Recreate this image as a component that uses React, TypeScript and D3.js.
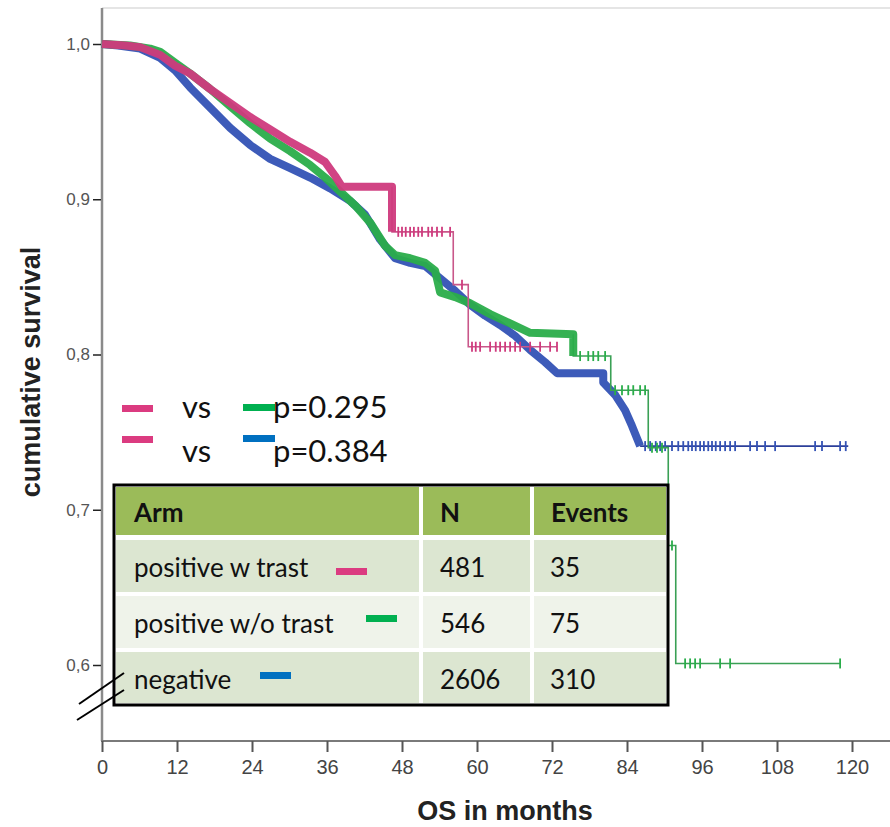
import React, { useEffect, useRef } from 'react';
import * as d3 from 'd3';

// axis ticks
const monthTicks = [0, 12, 24, 36, 48, 60, 72, 84, 96, 108, 120];
const survivalTicks = [0.6, 0.7, 0.8, 0.9, 1.0];

// Kaplan-Meier curves: [month, cumulative survival]
const pinkCurve: [number, number][] = [
  [0, 1.0], [3.7, 0.999], [6.1, 0.998], [9.3, 0.993], [11.7, 0.986], [14.1, 0.981],
  [17.3, 0.971], [20.5, 0.962], [23.7, 0.953], [26.9, 0.945], [30.1, 0.937], [33.3, 0.93],
  [35.7, 0.924], [37.3, 0.915], [38.4, 0.908], [46.4, 0.908], [46.4, 0.879], [56.2, 0.879],
  [56.2, 0.845], [58.6, 0.845], [58.6, 0.805], [72.8, 0.805],
];
const pinkCensor = [
  47.4, 48.0, 48.6, 49.3, 49.9, 50.6, 51.2, 52.2, 52.8, 53.6, 54.4, 55.7, 57.6,
  59.2, 59.8, 60.5, 62.1, 63.0, 63.7, 64.5, 65.3, 66.1, 66.9, 68.5, 70.1, 71.7, 72.8,
];

const greenCurve: [number, number][] = [
  [0, 1.0], [4.5, 0.999], [7.7, 0.997], [9.3, 0.995], [11.7, 0.988], [14.1, 0.981],
  [17.3, 0.971], [20.5, 0.96], [23.7, 0.949], [26.9, 0.939], [30.1, 0.931], [33.3, 0.922],
  [35.7, 0.914], [38.1, 0.905], [40.5, 0.896], [42.9, 0.885], [45.3, 0.87], [46.9, 0.864],
  [49.3, 0.862], [51.7, 0.859], [53.3, 0.854], [54.1, 0.84], [56.5, 0.837], [58.9, 0.833],
  [62.1, 0.826], [65.3, 0.82], [68.5, 0.814], [75.4, 0.813], [75.4, 0.799], [81.4, 0.799],
  [81.4, 0.777], [87.4, 0.777], [87.4, 0.74], [90.6, 0.74], [90.6, 0.677], [91.8, 0.677],
  [91.8, 0.601], [118.1, 0.601],
];
const greenCensor = [
  76.5, 77.8, 78.6, 79.4, 80.5, 82.1, 83.2, 84.2, 85.0,
  86.1, 86.9, 88.0, 88.8, 89.6, 91.2, 93.3, 94.1, 94.9, 95.7, 98.9, 100.5, 118.1,
];

const blueCurve: [number, number][] = [
  [0, 1.0], [2.6, 0.999], [6.1, 0.997], [9.3, 0.991], [11.7, 0.983], [14.1, 0.972],
  [17.3, 0.959], [20.5, 0.946], [23.7, 0.935], [26.9, 0.926], [30.1, 0.92], [33.3, 0.914],
  [36.5, 0.907], [39.7, 0.899], [42.1, 0.89], [44.5, 0.874], [46.9, 0.862], [49.3, 0.859],
  [51.7, 0.857], [54.1, 0.849], [56.5, 0.841], [58.9, 0.832], [61.3, 0.825], [63.7, 0.819],
  [66.1, 0.812], [68.5, 0.803], [70.9, 0.795], [72.8, 0.788], [80.2, 0.788], [80.2, 0.782],
  [82.1, 0.774], [83.7, 0.764], [84.8, 0.754], [86.1, 0.741], [119.4, 0.741],
];
const blueCensor = [
  86.9, 87.7, 88.6, 89.3, 90.1, 91.2, 92.2, 93.0, 93.8, 94.4, 95.0, 95.7, 96.3, 97.0,
  97.6, 98.2, 98.9, 99.7, 100.5, 101.3, 103.7, 104.8, 106.1, 107.7, 114.1, 115.2, 118.1, 119.0,
];

// table and legend
const armNames = ['positive w trast', 'positive w/o trast', 'negative'];
const armN = [481, 546, 2606];
const armEvents = [35, 75, 310];
const armColors = ['#db3b80', '#00b050', '#0070c0'];
const pValues = ['p=0.295', 'p=0.384'];

// drawing order: blue under green under pink
const series = [
  { curve: blueCurve, censor: blueCensor, denseUntil: 86.1, color: '#3352b5', thin: '#2c3f9a' },
  { curve: greenCurve, censor: greenCensor, denseUntil: 75.4, color: '#2aad4a', thin: '#3aa055' },
  { curve: pinkCurve, censor: pinkCensor, denseUntil: 46.4, color: '#cf3a7d', thin: '#c9578a' },
];

const App = () => {
  const svgRef = useRef<SVGSVGElement>(null);

  useEffect(() => {
    const width = 890;
    const height = 827;

    const svg = d3.select(svgRef.current);
    svg.selectAll('*').remove();
    svg.attr('viewBox', [0, 0, width, height]);

    const x = d3.scaleLinear().domain([0, 120]).range([102, 852]);
    const y = d3.scaleLinear().domain([0.6, 1.0]).range([665, 44]);
    const axisY = 741;

    // frame top line
    svg.append('line')
      .attr('x1', 102).attr('x2', width).attr('y1', 8).attr('y2', 8)
      .attr('stroke', '#dcdcdc').attr('stroke-width', 1.5);

    // y axis
    svg.append('line')
      .attr('x1', 102).attr('x2', 102).attr('y1', 8).attr('y2', axisY)
      .attr('stroke', '#8a8a8a').attr('stroke-width', 2.5);

    const yAxis = svg.append('g')
      .attr('transform', 'translate(101,0)')
      .call(d3.axisLeft(y).tickValues(survivalTicks).tickSize(8).tickPadding(3)
        .tickFormat(d => d3.format('.1f')(d as number).replace('.', ',')));
    yAxis.select('.domain').remove();
    yAxis.selectAll('line').attr('stroke', '#222').attr('stroke-width', 1.5);
    yAxis.selectAll('text')
      .attr('font-family', 'Liberation Sans, Arial, sans-serif')
      .attr('font-size', 17).attr('fill', '#555');

    // x axis
    svg.append('line')
      .attr('x1', 101).attr('x2', width).attr('y1', axisY).attr('y2', axisY)
      .attr('stroke', '#7a7a7a').attr('stroke-width', 2);

    const xAxis = svg.append('g')
      .attr('transform', `translate(0,${axisY})`)
      .call(d3.axisBottom(x).tickValues(monthTicks).tickSize(11).tickPadding(8).tickFormat(d3.format('d')));
    xAxis.select('.domain').remove();
    xAxis.selectAll('line').attr('stroke', '#555').attr('stroke-width', 2);
    xAxis.selectAll('text')
      .attr('font-family', 'Liberation Sans Narrow, Liberation Sans, Arial, sans-serif')
      .attr('font-size', 20).attr('fill', '#444');

    // axis titles
    svg.append('text')
      .attr('x', 505).attr('y', 820)
      .attr('text-anchor', 'middle')
      .attr('font-family', 'Liberation Sans, Arial, sans-serif')
      .attr('font-weight', 'bold').attr('font-size', 27).attr('fill', '#222')
      .text('OS in months');

    svg.append('text')
      .attr('transform', 'translate(40,372) rotate(-90)')
      .attr('text-anchor', 'middle')
      .attr('font-family', 'Liberation Sans, Arial, sans-serif')
      .attr('font-weight', 'bold').attr('font-size', 27).attr('fill', '#222')
      .text('cumulative survival');

    // curves
    const line = d3.line<[number, number]>()
      .x(d => x(d[0]))
      .y(d => y(d[1]));
    const bisect = d3.bisector((d: [number, number]) => d[0]).right;

    series.forEach(s => {
      const dense = s.curve.filter(d => d[0] <= s.denseUntil);
      const tail = s.curve.filter(d => d[0] >= s.denseUntil);

      svg.append('path')
        .attr('d', line(tail))
        .attr('fill', 'none')
        .attr('stroke', s.thin)
        .attr('stroke-width', 1.6);

      svg.append('path')
        .attr('d', line(dense))
        .attr('fill', 'none')
        .attr('stroke', s.color)
        .attr('stroke-width', 8)
        .attr('stroke-linejoin', 'round')
        .attr('opacity', 0.95);

      svg.append('g')
        .selectAll('line')
        .data(s.censor)
        .join('line')
        .attr('x1', d => x(d)).attr('x2', d => x(d))
        .attr('y1', d => y(s.curve[Math.max(0, bisect(s.curve, d) - 1)][1]) - 5)
        .attr('y2', d => y(s.curve[Math.max(0, bisect(s.curve, d) - 1)][1]) + 5)
        .attr('stroke', s.color)
        .attr('stroke-width', 1.8);
    });

    // legend with p-values
    const legendFont = 'Lato, Open Sans, sans-serif';
    pValues.forEach((p, i) => {
      row(i, p);
    });
    function row(i: number, p: string) {
      const g = svg.append('g');
      g.append('rect').attr('x', 122).attr('y', 405 + i * 31).attr('width', 31).attr('height', 7).attr('fill', armColors[0]);
      g.append('rect').attr('x', 243).attr('y', 404 + i * 31).attr('width', 32).attr('height', 7)
        .attr('fill', armColors[i + 1]);
      g.append('text').attr('x', 182).attr('y', 418 + i * 44)
        .attr('font-family', legendFont).attr('font-size', 31).attr('fill', '#111').text('vs');
      g.append('text').attr('x', 273).attr('y', 418 + i * 44)
        .attr('font-family', legendFont).attr('font-size', 31).attr('fill', '#111').text(p);
    }

    // table
    const table = svg.append('g');
    const colX = [116, 423, 534];
    const colW = [303, 107, 132];
    const rowY = [487, 540, 596, 652];
    const rowH = [48, 52, 52, 51];
    const rowFill = ['#9bbb59', '#dce6d1', '#eff3ea', '#dce6d1'];
    const tableFont = 26;

    table.append('rect').attr('x', 114).attr('y', 485).attr('width', 554).attr('height', 220).attr('fill', '#fff');

    rowY.forEach((ry, r) => {
      colX.forEach((cx, c) => {
        table.append('rect')
          .attr('x', cx).attr('y', ry).attr('width', colW[c]).attr('height', rowH[r])
          .attr('fill', rowFill[r]);
      });
    });

    const header = ['Arm', 'N', 'Events'];
    header.forEach((h, c) => {
      table.append('text')
        .attr('x', colX[c] + (c === 0 ? 18 : 17)).attr('y', 522)
        .attr('font-family', legendFont).attr('font-weight', 'bold').attr('font-size', tableFont).attr('fill', '#111')
        .text(h);
    });

    const swatchX = [336, 366, 260];
    const swatchY = [568, 615, 672];
    armNames.forEach((name, r) => {
      const baseline = rowY[r + 1] + 37;
      table.append('text').attr('x', 134).attr('y', baseline)
        .attr('font-family', legendFont).attr('font-size', tableFont).attr('fill', '#111').text(name);
      table.append('text').attr('x', 440).attr('y', baseline)
        .attr('font-family', legendFont).attr('font-size', tableFont).attr('fill', '#111').text(armN[r]);
      table.append('text').attr('x', 550).attr('y', baseline)
        .attr('font-family', legendFont).attr('font-size', tableFont).attr('fill', '#111').text(armEvents[r]);
      table.append('rect').attr('x', swatchX[r]).attr('y', swatchY[r]).attr('width', 31).attr('height', 7)
        .attr('fill', armColors[r]);
    });

    table.append('rect').attr('x', 114).attr('y', 485).attr('width', 554).attr('height', 220)
      .attr('fill', 'none').attr('stroke', '#000').attr('stroke-width', 3);

    // axis break marks
    svg.append('line').attr('x1', 79).attr('y1', 704).attr('x2', 124).attr('y2', 673)
      .attr('stroke', '#000').attr('stroke-width', 2);
    svg.append('line').attr('x1', 77).attr('y1', 720).attr('x2', 124).attr('y2', 690)
      .attr('stroke', '#000').attr('stroke-width', 2);
  }, []);

  return (
    <svg ref={svgRef} width={890} height={827}
      style={{ position: 'absolute', left: 0, top: 0, background: '#fff' }} />
  );
};

export default App;
